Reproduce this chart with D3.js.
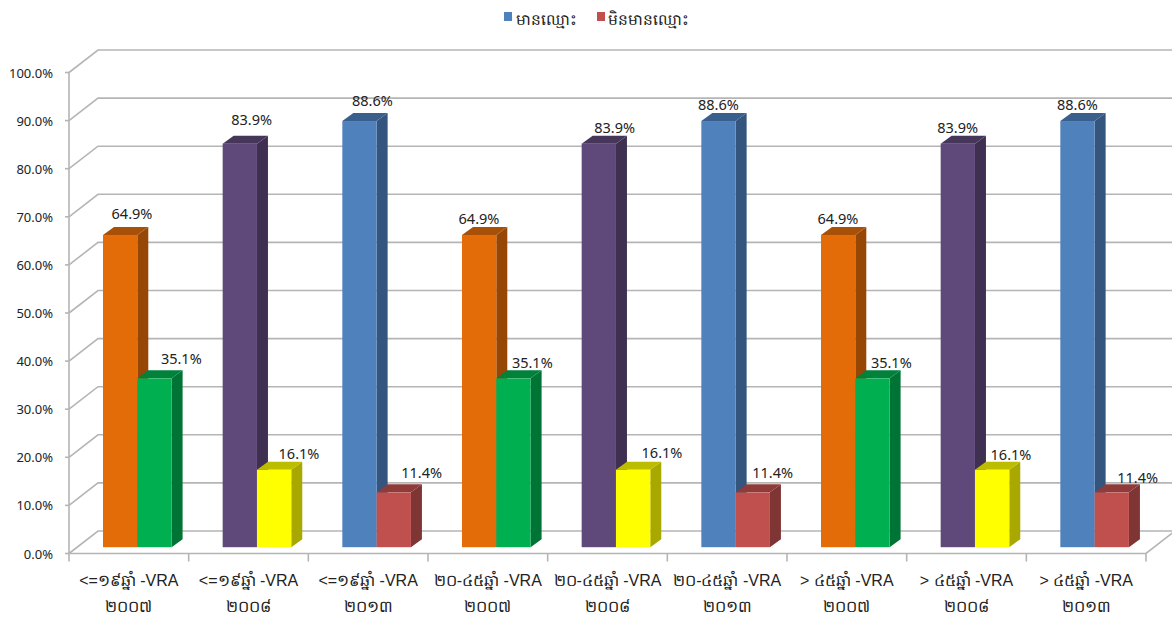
<!DOCTYPE html>
<html>
<head>
<meta charset="utf-8">
<script src="https://cdn.jsdelivr.net/npm/d3@7"></script>
<style>
body { margin: 0; background: #fff; }
text { font-family: "Noto Sans", "DejaVu Sans", "Liberation Sans", sans-serif; fill: #222; }
.xlab text { font-family: "Liberation Sans", "Noto Sans", sans-serif; }
</style>
</head>
<body>
<svg id="chart" width="1172" height="619"></svg>
<script>
var ageGroups = ["<=១៩ឆ្នាំ -VRA", "<=១៩ឆ្នាំ -VRA", "<=១៩ឆ្នាំ -VRA", "២០-៤៥ឆ្នាំ -VRA", "២០-៤៥ឆ្នាំ -VRA", "២០-៤៥ឆ្នាំ -VRA", "> ៤៥ឆ្នាំ -VRA", "> ៤៥ឆ្នាំ -VRA", "> ៤៥ឆ្នាំ -VRA"];
var years = ["២០០៧", "២០០៨", "២០១៣", "២០០៧", "២០០៨", "២០១៣", "២០០៧", "២០០៨", "២០១៣"];
var seriesNames = ["មានឈ្មោះ", "មិនមានឈ្មោះ"];
var hasName = [64.9, 83.9, 88.6, 64.9, 83.9, 88.6, 64.9, 83.9, 88.6];
var noName = [35.1, 16.1, 11.4, 35.1, 16.1, 11.4, 35.1, 16.1, 11.4];
var yTicks = [0, 10, 20, 30, 40, 50, 60, 70, 80, 90, 100];

var hasNameColors = ["#e36c09", "#5f497a", "#4f81bd", "#e36c09", "#5f497a", "#4f81bd", "#e36c09", "#5f497a", "#4f81bd"];
var noNameColors = ["#00b050", "#ffff00", "#c0504d", "#00b050", "#ffff00", "#c0504d", "#00b050", "#ffff00", "#c0504d"];

// labels were dragged by hand in the original, so offsets from the default spot
var hasNameNudge = [[7, -1], [7, -4], [8, 0], [-5, 4], [11, 4], [-5, 4], [-5, 4], [-5, 4], [-5, 4]];
var noNameNudge = [[4, 0], [2, 4], [5, 0], [-4, 4], [6, 3], [-3, 0], [-4, 4], [-4, 5], [3, 5]];

var svg = d3.select("#chart");

var x0 = 69, x1 = 1146, yBottom = 553.5, yTop = 72.5;
var wallDx = 29, wallDy = -22.5;
var barDx = 11, barDy = -8, barBase = -6.3;

var x = d3.scaleBand().domain(d3.range(ageGroups.length)).range([x0, x1]);
var y = d3.scaleLinear().domain([0, 100]).range([yBottom, yTop]);
var barWidth = 34.3, barInset = 34;

var gridColor = "#b5b5b5";

var walls = svg.append("g").attr("fill", "none").attr("stroke", gridColor).attr("stroke-width", 1.6);
yTicks.forEach(function(t) {
	walls.append("path").attr("d", d3.line()([[x0, y(t)], [x0 + wallDx, y(t) + wallDy], [1172, y(t) + wallDy]]));
});
walls.append("path").attr("d", d3.line()([[x0, yTop], [x0, yBottom], [x1, yBottom], [x1 + wallDx, yBottom + wallDy]]));

var axis = svg.append("g").attr("stroke", gridColor).attr("stroke-width", 1.6);
yTicks.forEach(function(t) {
	axis.append("line").attr("x1", x0 - 4).attr("x2", x0).attr("y1", y(t)).attr("y2", y(t));
});
d3.range(ageGroups.length + 1).forEach(function(i) {
	var px = x0 + i * x.bandwidth();
	axis.append("line").attr("x1", px).attr("x2", px).attr("y1", yBottom).attr("y2", yBottom + 8);
});

svg.append("g").selectAll("text").data(yTicks).join("text")
	.attr("x", 53)
	.attr("y", function(d) { return y(d) + 5; })
	.attr("text-anchor", "end")
	.attr("font-size", 13)
	.text(function(d) { return d.toFixed(1) + "%"; });

function shade(color, k) {
	var c = d3.rgb(color);
	return d3.rgb(c.r * k, c.g * k, c.b * k);
}

function drawBar(g, left, value, color) {
	var top = y(value) + barBase;
	var bottom = yBottom + barBase;
	g.append("polygon")
		.attr("fill", shade(color, 0.66))
		.attr("points", [[left + barWidth, top], [left + barWidth + barDx, top + barDy], [left + barWidth + barDx, bottom + barDy], [left + barWidth, bottom]].join(" "));
	g.append("polygon")
		.attr("fill", shade(color, 0.74))
		.attr("points", [[left, top], [left + barDx, top + barDy], [left + barWidth + barDx, top + barDy], [left + barWidth, top]].join(" "));
	g.append("rect")
		.attr("x", left).attr("y", top)
		.attr("width", barWidth).attr("height", bottom - top)
		.attr("fill", color);
}

var bars = svg.append("g");
hasName.forEach(function(v, i) {
	var left = x(i) + barInset;
	drawBar(bars, left, v, hasNameColors[i]);
	drawBar(bars, left + barWidth, noName[i], noNameColors[i]);
});

var labels = svg.append("g").attr("font-size", 14.5).attr("text-anchor", "middle");
hasName.forEach(function(v, i) {
	var left = x(i) + barInset;
	labels.append("text")
		.attr("x", left + 22 + hasNameNudge[i][0])
		.attr("y", y(v) - 21 + hasNameNudge[i][1])
		.text(v.toFixed(1) + "%");
	labels.append("text")
		.attr("x", left + barWidth + 40 + noNameNudge[i][0])
		.attr("y", y(noName[i]) - 21 + noNameNudge[i][1])
		.text(noName[i].toFixed(1) + "%");
});

var xLabels = svg.append("g").attr("class", "xlab").attr("text-anchor", "middle").attr("font-size", 16);
ageGroups.forEach(function(d, i) {
	var cx = x(i) + x.bandwidth() / 2;
	xLabels.append("text").attr("x", cx).attr("y", 586).text(d);
	xLabels.append("text").attr("x", cx).attr("y", 612).text(years[i]);
});

var legend = svg.append("g").attr("font-size", 15.5);
legend.append("rect").attr("x", 504).attr("y", 12).attr("width", 8).attr("height", 9).attr("fill", "#4f81bd");
legend.append("text").attr("x", 516).attr("y", 25).text(seriesNames[0]);
legend.append("rect").attr("x", 597).attr("y", 12).attr("width", 8).attr("height", 9).attr("fill", "#c0504d");
legend.append("text").attr("x", 608).attr("y", 25).text(seriesNames[1]);
</script>
</body>
</html>
